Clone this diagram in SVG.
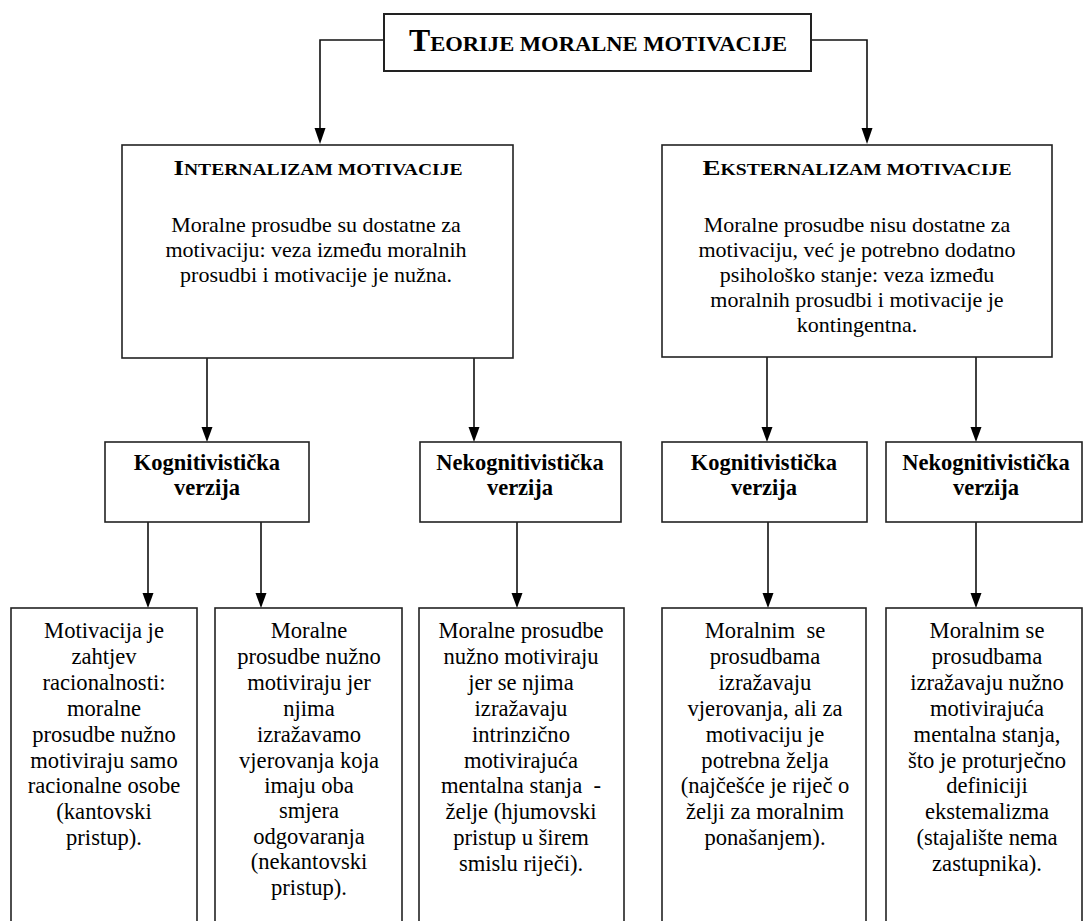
<svg xmlns="http://www.w3.org/2000/svg" width="1083" height="921" viewBox="0 0 1083 921">
<style>
rect.box{fill:#fff;stroke:#222;stroke-width:1.6}
text{font-family:"Liberation Serif","Times New Roman",serif;fill:#000;text-anchor:middle}
.body{font-size:22px}
.bb{font-size:22.6px}
.sub{font-size:22.5px;font-weight:bold}
.head{font-weight:bold}
.line{fill:none;stroke:#111;stroke-width:1.6}
.tip{fill:#000;stroke:none}
</style>
<g id="connectors">
<path class="line" d="M384,40 H320 V130" />
<path class="line" d="M811,40 H867 V130" />
<path class="line" d="M207,358 V430" />
<path class="line" d="M474,358 V430" />
<path class="line" d="M767,357 V430" />
<path class="line" d="M976,357 V430" />
<path class="line" d="M148,522 V596" />
<path class="line" d="M261,522 V596" />
<path class="line" d="M517,522 V596" />
<path class="line" d="M768,522 V596" />
<path class="line" d="M976,522 V596" />
<path class="tip" d="M314.5,128 L325.5,128 L320,144 Z"/>
<path class="tip" d="M861.5,128 L872.5,128 L867,144 Z"/>
<path class="tip" d="M201.5,427 L212.5,427 L207,442 Z"/>
<path class="tip" d="M468.5,427 L479.5,427 L474,442 Z"/>
<path class="tip" d="M761.5,427 L772.5,427 L767,442 Z"/>
<path class="tip" d="M970.5,427 L981.5,427 L976,442 Z"/>
<path class="tip" d="M142.5,593 L153.5,593 L148,608 Z"/>
<path class="tip" d="M255.5,593 L266.5,593 L261,608 Z"/>
<path class="tip" d="M511.5,593 L522.5,593 L517,608 Z"/>
<path class="tip" d="M762.5,593 L773.5,593 L768,608 Z"/>
<path class="tip" d="M970.5,593 L981.5,593 L976,608 Z"/>
</g>
<g id="title">
<rect class="box" x="384" y="14" width="427" height="57" style="stroke-width:2"/>
<text x="598" y="51" class="head" textLength="378" lengthAdjust="spacingAndGlyphs"><tspan font-size="31">T</tspan><tspan font-size="22">EORIJE MORALNE MOTIVACIJE</tspan></text>
</g>
<g id="internalizam">
<rect class="box" x="122" y="145" width="391" height="213"/>
<text x="318" y="175" class="head" textLength="289" lengthAdjust="spacingAndGlyphs"><tspan font-size="22">I</tspan><tspan font-size="16">NTERNALIZAM MOTIVACIJE</tspan></text>
<text class="body" x="316" y="232">Moralne prosudbe su dostatne za</text>
<text class="body" x="316" y="257">motivaciju: veza između moralnih</text>
<text class="body" x="316" y="282">prosudbi i motivacije je nužna.</text>
</g>
<g id="eksternalizam">
<rect class="box" x="662" y="145" width="390" height="212"/>
<text x="857" y="175" class="head" textLength="309" lengthAdjust="spacingAndGlyphs"><tspan font-size="22">E</tspan><tspan font-size="16">KSTERNALIZAM MOTIVACIJE</tspan></text>
<text class="body" x="857" y="232">Moralne prosudbe nisu dostatne za</text>
<text class="body" x="857" y="257">motivaciju, već je potrebno dodatno</text>
<text class="body" x="857" y="282">psihološko stanje: veza između</text>
<text class="body" x="857" y="307">moralnih prosudbi i motivacije je</text>
<text class="body" x="857" y="332">kontingentna.</text>
</g>
<g id="kog1">
<rect class="box" x="105" y="442" width="204" height="80"/>
<text class="sub" x="207" y="470">Kognitivistička</text>
<text class="sub" x="207" y="495">verzija</text>
</g>
<g id="nekog1">
<rect class="box" x="420" y="442" width="201" height="80"/>
<text class="sub" x="520" y="470">Nekognitivistička</text>
<text class="sub" x="520" y="495">verzija</text>
</g>
<g id="kog2">
<rect class="box" x="662" y="442" width="205" height="80"/>
<text class="sub" x="764" y="470">Kognitivistička</text>
<text class="sub" x="764" y="495">verzija</text>
</g>
<g id="nekog2">
<rect class="box" x="886" y="442" width="196" height="80"/>
<text class="sub" x="986" y="470">Nekognitivistička</text>
<text class="sub" x="986" y="495">verzija</text>
</g>
<g id="b1">
<rect class="box" x="11" y="608" width="186" height="330"/>
<text class="bb" x="104" y="638">Motivacija je</text>
<text class="bb" x="104" y="664">zahtjev</text>
<text class="bb" x="104" y="690">racionalnosti:</text>
<text class="bb" x="104" y="716">moralne</text>
<text class="bb" x="104" y="742">prosudbe nužno</text>
<text class="bb" x="104" y="768">motiviraju samo</text>
<text class="bb" x="104" y="793">racionalne osobe</text>
<text class="bb" x="104" y="819">(kantovski</text>
<text class="bb" x="104" y="845">pristup).</text>
</g>
<g id="b2">
<rect class="box" x="215" y="608" width="187" height="330"/>
<text class="bb" x="309" y="638">Moralne</text>
<text class="bb" x="309" y="664">prosudbe nužno</text>
<text class="bb" x="309" y="690">motiviraju jer</text>
<text class="bb" x="309" y="716">njima</text>
<text class="bb" x="309" y="742">izražavamo</text>
<text class="bb" x="309" y="768">vjerovanja koja</text>
<text class="bb" x="309" y="793">imaju oba</text>
<text class="bb" x="309" y="818">smjera</text>
<text class="bb" x="309" y="844">odgovaranja</text>
<text class="bb" x="309" y="869">(nekantovski</text>
<text class="bb" x="309" y="895">pristup).</text>
</g>
<g id="b3">
<rect class="box" x="419" y="608" width="205" height="330"/>
<text class="bb" x="521" y="638">Moralne prosudbe</text>
<text class="bb" x="521" y="664">nužno motiviraju</text>
<text class="bb" x="521" y="690">jer se njima</text>
<text class="bb" x="521" y="716">izražavaju</text>
<text class="bb" x="521" y="742">intrinzično</text>
<text class="bb" x="521" y="768">motivirajuća</text>
<text class="bb" x="521" y="793" xml:space="preserve">mentalna stanja  -</text>
<text class="bb" x="521" y="819">želje (hjumovski</text>
<text class="bb" x="521" y="845">pristup u širem</text>
<text class="bb" x="521" y="871">smislu riječi).</text>
</g>
<g id="b4">
<rect class="box" x="662" y="608" width="204" height="330"/>
<text class="bb" x="765" y="638" xml:space="preserve">Moralnim  se</text>
<text class="bb" x="765" y="664">prosudbama</text>
<text class="bb" x="765" y="690">izražavaju</text>
<text class="bb" x="765" y="716">vjerovanja, ali za</text>
<text class="bb" x="765" y="742">motivaciju je</text>
<text class="bb" x="765" y="768">potrebna želja</text>
<text class="bb" x="765" y="793">(najčešće je riječ o</text>
<text class="bb" x="765" y="819">želji za moralnim</text>
<text class="bb" x="765" y="845">ponašanjem).</text>
</g>
<g id="b5">
<rect class="box" x="886" y="608" width="196" height="330"/>
<text class="bb" x="987" y="638">Moralnim se</text>
<text class="bb" x="987" y="664">prosudbama</text>
<text class="bb" x="987" y="690">izražavaju nužno</text>
<text class="bb" x="987" y="716">motivirajuća</text>
<text class="bb" x="987" y="742">mentalna stanja,</text>
<text class="bb" x="987" y="768">što je proturječno</text>
<text class="bb" x="987" y="793">definiciji</text>
<text class="bb" x="987" y="819">ekstemalizma</text>
<text class="bb" x="987" y="845">(stajalište nema</text>
<text class="bb" x="987" y="871">zastupnika).</text>
</g>
</svg>
